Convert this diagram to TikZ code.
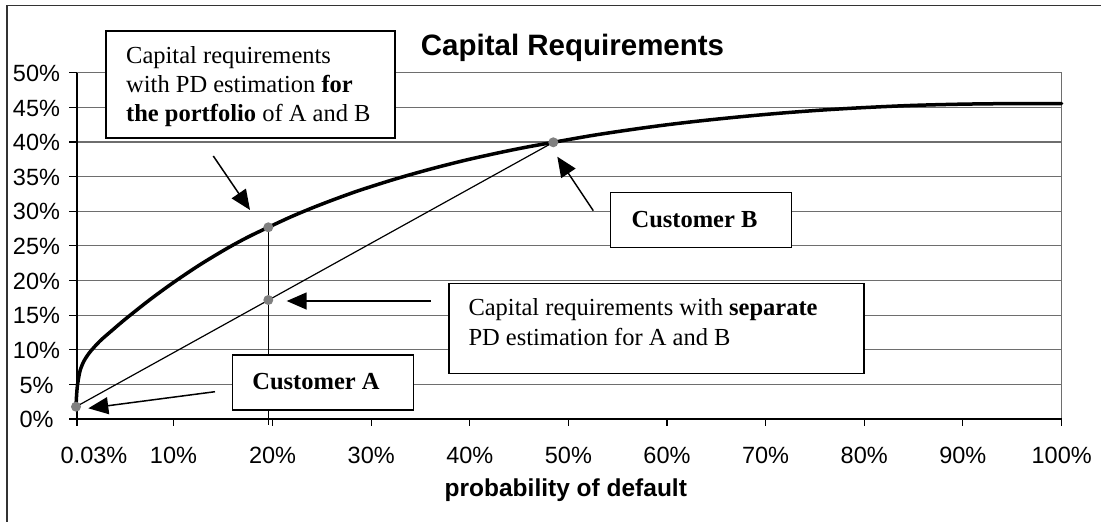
\documentclass[tikz,border=0pt]{standalone}
\usepackage{fontspec}
\setmainfont{Liberation Serif}
\setsansfont{Liberation Sans}
\usetikzlibrary{arrows.meta}
\definecolor{gridc}{RGB}{110,110,110}
\definecolor{dotc}{RGB}{128,128,128}
\begin{document}
\begin{tikzpicture}[x=1pt,y=-1pt,
  gridline/.style={draw=gridc,line width=1.2pt},
  axisline/.style={draw=black,line width=1.2pt},
  framebox/.style={draw=black,line width=1.5pt,fill=white,inner sep=0pt},
  ser/.style={font=\fontsize{24.5}{29}\selectfont,inner sep=0pt,anchor=base west},
  serc/.style={font=\fontsize{24.5}{29}\selectfont\bfseries,inner sep=0pt,anchor=base},
  sanslab/.style={font=\sffamily\fontsize{23.5}{28}\selectfont,inner sep=0pt,anchor=base},
  dotnode/.style={circle,fill=dotc,inner sep=0pt,minimum size=10pt},
  callout/.style={line width=1.5pt,-{Triangle[length=20pt,width=17pt]}},
  curveline/.style={line width=3.5pt,line join=round,line cap=round}]
\useasboundingbox (0,0) rectangle (1101,522);
% outer frame (top and left edges visible)
\draw[line width=1.3pt,draw=black!80] (7,522) -- (7,5.5) -- (1101,5.5);
% title
\node[font=\sffamily\bfseries\fontsize{29.5}{34}\selectfont,inner sep=0pt,anchor=base west] (title) at (420.7,55) {Capital Requirements};
% grid
\foreach \i in {1,...,10} \draw[gridline] (77,{419-\i*34.63}) -- (1061.7,{419-\i*34.63});
\draw[gridline] (1061.7,72.7) -- (1061.7,419);
% axes
\draw[axisline] (77,72.7) -- (77,419) -- (1061.7,419);
\foreach \i [evaluate=\i as \v using int(5*\i)] in {0,...,10} {
  \draw[axisline] (69,{419-\i*34.63}) -- (77,{419-\i*34.63});
  \node[sanslab] (yl\i) at (36.5,{419-\i*34.63+8.7}) {\v\%};
}
\foreach \xp [count=\k] in {77,173.5,272.6,371.2,469.8,568.4,667,765.6,864.2,962.8,1061.7}
  \draw[axisline] (\xp,419) -- (\xp,426);
\foreach \xp/\lab [count=\k] in {94/0.03,173.5/10,272.6/20,371.2/30,469.8/40,568.4/50,667/60,765.6/70,864.2/80,962.8/90,1061.7/100}
  \node[sanslab] (xl\k) at (\xp,463) {\lab\%};
\node[font=\sffamily\bfseries\fontsize{24.5}{29}\selectfont,inner sep=0pt,anchor=base] (xtitle) at (565.8,496.7) {probability of default};
% key points
\coordinate (A) at (76,406.7);
\coordinate (P) at (268.3,227.3);
\coordinate (S) at (268.3,300);
\coordinate (B) at (553.3,142.3);
\coordinate (Pfoot) at (268.3,425);
% capital requirement curve
\draw[curveline] plot[smooth,tension=0.5] coordinates {
 (76,406.7) (76.6,395) (77.5,385) (80,371) (84,361) (90,352) (100,341)
 (113,329.6) (126.7,318) (150,299.6) (173.3,282.6) (200,264.7) (226.7,248.6)
 (247.5,237.3) (268.3,227.3) (291,216.8) (314,207.2) (337,198.4) (360,190.2)
 (395,179.1) (430,169.2) (465,160.3) (500,152.5) (526.7,147.1) (553.3,142.3)
 (593.3,135.3) (633.3,129.3) (666.7,124.8) (700,120.9) (740,116.8) (780,113.2)
 (820,110.2) (860,107.8) (910,105.5) (960,104.2) (1010,103.6) (1061.7,103.5)};
% straight line and vertical line
\draw[line width=1.2pt] (A) -- (B);
\draw[line width=1.2pt] (P) -- (Pfoot);
% dots
\node[dotnode] (dA) at (A) {};
\node[dotnode] (dP) at (P) {};
\node[dotnode] (dS) at (S) {};
\node[dotnode] (dB) at (B) {};
% callout boxes
\node[framebox,minimum width=289pt,minimum height=107pt] (boxP) at (250.5,84.5) {};
\node[ser] (tP1) at (126,63.5) {Capital requirements};
\node[ser] (tP2) at (126,92.5) {with PD estimation \textbf{for}};
\node[ser] (tP3) at (126,121.5) {\textbf{the portfolio} of A and B};
\node[framebox,minimum width=181pt,minimum height=54.6pt] (boxB) at (701.2,220) {};
\node[serc] (tB) at (694.5,227.3) {Customer B};
\node[framebox,minimum width=415pt,minimum height=90pt] (boxS) at (656.5,328.3) {};
\node[ser] (tS1) at (468.3,315.7) {Capital requirements with \textbf{separate}};
\node[ser] (tS2) at (468.3,345) {PD estimation for A and B};
\node[framebox,minimum width=180.6pt,minimum height=55pt] (boxA) at (323,382.5) {};
\node[serc] (tA) at (316,389.3) {Customer A};
% arrows
\coordinate (aP0) at (213.3,156); \coordinate (aP1) at (250,210);
\coordinate (aB0) at (593.3,210.7); \coordinate (aB1) at (557.3,156.7);
\coordinate (aS0) at (430.7,301); \coordinate (aS1) at (286.7,301);
\coordinate (aA0) at (215,391.7); \coordinate (aA1) at (88.3,408.3);
\draw[callout] (aP0) -- (aP1);
\draw[callout] (aB0) -- (aB1);
\draw[callout] (aS0) -- (aS1);
\draw[callout] (aA0) -- (aA1);
\end{tikzpicture}
\end{document}
